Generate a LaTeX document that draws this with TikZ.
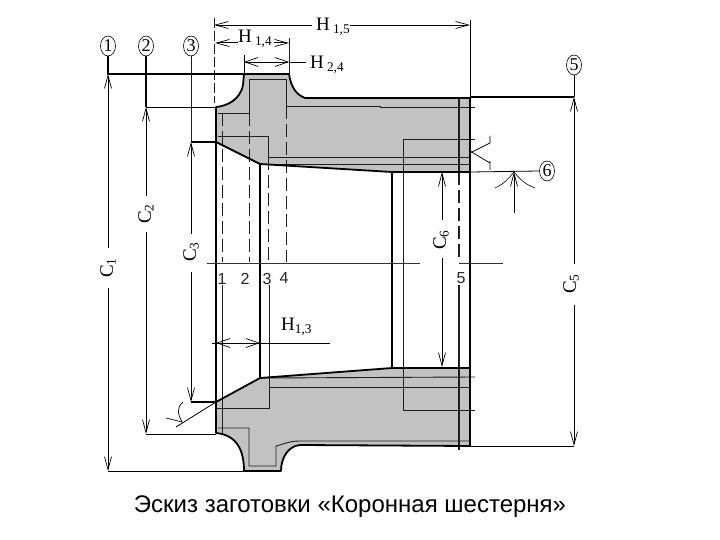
\documentclass[tikz,border=0pt]{standalone}
\usepackage{fontspec}
\setmainfont{Liberation Serif}
\newfontfamily\capfont[WordSpace=1.5]{Liberation Sans}
\newfontfamily\digfont{Liberation Sans}
\usetikzlibrary{arrows.meta,shapes.geometric}
\tikzset{
  outline/.style={line width=1.8pt,black,line join=round},
  inner/.style={line width=0.9pt,black!88},
  dashline/.style={inner,dash pattern=on 13pt off 5pt},
  dimline/.style={line width=0.8pt,black},
  extline/.style={line width=1.1pt,black},
  barb/.style={dimline,arrows={-Straight Barb[length=13pt,width=7pt,line width=0.7pt]}},
  barbboth/.style={dimline,arrows={Straight Barb[length=13pt,width=9pt,line width=0.7pt]-Straight Barb[length=13pt,width=9pt,line width=0.7pt]}},
  tag/.style={draw,ellipse,line width=0.6pt,inner sep=0pt,minimum width=15pt,minimum height=20pt,font=\fontsize{18}{18}\selectfont},
  dimtext/.style={font=\fontsize{19}{19}\selectfont,inner sep=0pt},
  digit/.style={font=\digfont\fontsize{16}{16}\selectfont,inner sep=0pt,text=black!85},
}
\begin{document}
\begin{tikzpicture}[x=1pt,y=-1pt]
\useasboundingbox (0,0) rectangle (720,540);
% section fill
\fill[black!24]
  (216,107) .. controls (227,106) and (240,100) .. (243,85) -- (244,74) -- (289,74)
  .. controls (291,88) and (297,95) .. (305,98) -- (470,98) -- (470,172) -- (392,172)
  -- (260,164) -- (216,142) -- cycle;
\fill[black!24]
  (216,402) -- (260,378) -- (392,368) -- (470,368) -- (470,446) -- (300,445)
  .. controls (288,446) and (281,458) .. (281,471) -- (244,471)
  .. controls (244,452) and (238,435) .. (216,433) -- cycle;
% inner allowance lines, top
\draw[inner] (218,113) -- (249,113) -- (249,79) -- (286,79) -- (286,106) -- (380,106) -- (380,107) -- (475,107);
\draw[inner] (218,136) -- (268,136) -- (268,157) -- (470,157);
\draw[inner] (262,164) -- (470,164);
\draw[inner] (475,139) -- (403,139) -- (403,410) -- (475,410);
% inner lines, bottom
\draw[inner] (216,408) -- (269,408) -- (269,387) -- (470,387);
\draw[inner] (262,378) -- (475,377);
\draw[inner] (218,428) -- (249,428) -- (249,466) -- (276,466) -- (276,446) .. controls (282,445) and (288,441) .. (300,441) -- (470,441);
% section lines and dashes
\draw[dashline] (222,113) -- (222,262);
\draw[inner] (222,285) -- (222,435);
\draw[dashline] (249,113) -- (249,262);
\draw[dashline] (268,157) -- (268,262);
\draw[inner] (269,285) -- (269,387);
\draw[dashline] (286,106) -- (286,262);
\draw[inner,line width=1.3pt] (459,98) -- (459,172);
\draw[dashline,line width=1.3pt] (459,172) -- (459,262);
\draw[inner,line width=1.3pt] (459,285) -- (459,450);
% outline
\draw[outline]
  (216,107) .. controls (227,106) and (240,100) .. (243,85) -- (244,74) -- (289,74)
  .. controls (291,88) and (297,95) .. (305,98) -- (470,98) -- (470,446) -- (300,445)
  .. controls (288,446) and (281,458) .. (281,471) -- (244,471)
  .. controls (244,452) and (238,435) .. (216,433) -- cycle;
\draw[outline] (216,142) -- (260,164) -- (392,172) -- (470,172);
\draw[outline] (216,402) -- (260,378) -- (392,368) -- (470,368);
\draw[line width=1.3pt] (260,164) -- (260,378);
\draw[line width=1.3pt] (392,172) -- (392,368);
% centre line
\draw[dimline,black!80] (207,263) -- (420,263);
\draw[dimline,black!80] (459,263) -- (503,263);
\node[digit] (d1) at (222,279) {1};
\node[digit] (d2) at (245,279) {2};
\node[digit] (d3) at (267,279) {3};
\node[digit] (d4) at (284,278) {4};
\node[digit] (d5) at (461,278) {5};
% circled tags
\node[tag] (t1) at (108,46) {1};
\node[tag] (t2) at (146,46) {2};
\node[tag] (t3) at (191,46) {3};
\node[tag] (t5) at (574,65) {5};
\node[tag] (t6) at (547,171) {6};
% C labels
\node[dimtext,rotate=90] (c1) at (108,268) {C\textsubscript{1}};
\node[dimtext,rotate=90] (c2) at (146,214) {C\textsubscript{2}};
\node[dimtext,rotate=90] (c3) at (191,252) {C\textsubscript{3}};
\node[dimtext,rotate=90] (c5) at (571,284) {C\textsubscript{5}};
\node[dimtext,rotate=90] (c6) at (441,240) {C\textsubscript{6}};
% named anchors of the dimensions
\coordinate (c1t) at (108,74); \coordinate (c1b) at (108,471);
\coordinate (c2t) at (146,107); \coordinate (c2b) at (146,434);
\coordinate (c3t) at (191,142); \coordinate (c3b) at (191,402);
\coordinate (c5t) at (574,97); \coordinate (c5b) at (574,446);
\coordinate (c6t) at (442,172); \coordinate (c6b) at (442,367);
% C dimensions
\draw[extline] (t1.south) -- (c1t) -- (244,74);
\draw[dimline] (c1b) -- (244,471);
\draw[barb] (108,248) -- (c1t);
\draw[barb] (108,288) -- (c1b);
\draw[extline] (t2.south) -- (c2t);
\draw[dimline] (c2t) -- (216,107);
\draw[dimline] (c2b) -- (216,434);
\draw[barb] (146,196) -- (c2t);
\draw[barb] (146,232) -- (c2b);
\draw[inner] (t3.south) -- (c3t);
\draw[extline] (c3t) -- (216,142);
\draw[extline] (c3b) -- (216,402);
\draw[barb] (191,234) -- (c3t);
\draw[barb] (191,272) -- (c3b);
\draw[dimline] (t5.south) -- (c5t);
\draw[outline,line width=1.3pt] (470,97) -- (c5t);
\draw[dimline] (470,446) -- (c5b);
\draw[barb] (574,264) -- (c5t);
\draw[barb] (574,305) -- (c5b);
\draw[barb] (442,220) -- (c6t);
\draw[barb] (442,258) -- (c6b);
% H dimensions
\node[dimtext,anchor=west] (h15) at (316,27) {H\,\textsubscript{1,5}};
\node[dimtext,anchor=west] (h14) at (238,39) {H\,\textsubscript{1,4}};
\node[dimtext,anchor=west] (h24) at (310,65) {H\,\textsubscript{2,4}};
\node[dimtext,anchor=west] (h13) at (281,327) {H\textsubscript{1,3}};
\draw[inner,dash pattern=on 10pt off 3pt] (214,18) -- (214,103);
\draw[dimline] (470,20) -- (470,98);
\draw[barb] (h15.west) ++(-4,-2) -- (214,25);
\draw[barb] (350,25) -- (470,25);
\draw[barb,line width=1pt] (238,43) -- (215,43);
\draw[barb,line width=1pt] (274,43) -- (289,43);
\draw[dimline] (244,55) -- (244,74);
\draw[inner] (289,38) -- (289,74);
\draw[barbboth] (244,62) -- (289,62);
\draw[dimline] (289,62) -- (306,62);
\draw[barbboth] (216,343) -- (260,343);
\draw[dimline] (260,343) -- (330,343);
\draw[dimline] (212,343) -- (216,343);
% roughness marks
\draw[line width=0.7pt] (470,153) -- (490,143) (490,136) -- (490,143);
\draw[line width=0.7pt] (470,151) -- (490,163) (490,161) -- (490,170);
\draw[dimline] (470,172) -- (t6.west);
\draw[barb] (514,213) -- (514,172);
\draw[line width=0.6pt] (495,188) .. controls (504,184) and (509,178) .. (514,172) .. controls (519,178) and (524,184) .. (535,188);
\draw[line width=0.8pt] (216,402) -- (176,427);
\draw[line width=0.7pt] (166,418) -- (182,422) .. controls (178,414) and (176,408) .. (183,402);
% caption
\node[font=\capfont\fontsize{24}{24}\selectfont,inner sep=0pt] (cap) at (350,507) {Эскиз заготовки «Коронная шестерня»};
\end{tikzpicture}
\end{document}
